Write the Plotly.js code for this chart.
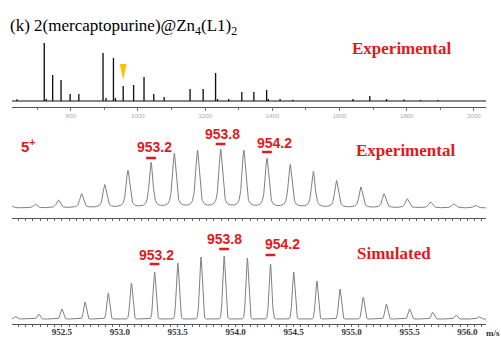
<!DOCTYPE html>
<html><head><meta charset="utf-8">
<script src="https://cdn.plot.ly/plotly-3.0.1.min.js"></script>
<style>html,body{margin:0;padding:0;background:#fff}#chart{width:501px;height:338px}</style>
</head><body><div id="chart"></div>
<script>
// ---- Overview spectrum (m/z, relative intensity %) ----
const overviewMz  = [640, 721, 727, 746, 771, 798, 824, 896, 905, 927, 933, 956, 987, 1018, 1047, 1078, 1155, 1194, 1231, 1237, 1270, 1309, 1345, 1383, 1388, 1423, 1461, 1640, 1690, 1740, 1792, 1841, 1893];
const overviewInt = [2.9, 100, 3.4, 44.8, 36.2, 12.1, 12.1, 82.8, 5.2, 74.1, 5.2, 25.9, 27.6, 41.4, 12.1, 6.9, 20.7, 20.7, 48.3, 3.4, 3.4, 15.5, 15.5, 19.0, 3.4, 3.4, 2.2, 3.4, 8.6, 3.4, 2.6, 1.7, 1.7];
const markedPeakMz = 956;
const topTickVals = [800, 1000, 1200, 1400, 1600, 1800, 2000];
const topTickText = ['800', '1000', '1200', '1400', '1600', '1800', '2000'];

// ---- Experimental isotope pattern (5+) ----
const expMz  = [952.07, 952.27, 952.47, 952.67, 952.87, 953.07, 953.27, 953.47, 953.67, 953.87, 954.07, 954.27, 954.47, 954.67, 954.87, 955.08, 955.28, 955.48, 955.68, 955.88, 956.07];
const expInt = [3.0, 6.4, 13.8, 24.1, 39.7, 63.8, 77.6, 93.1, 98.3, 100, 98.3, 84.5, 74.1, 62.1, 46.6, 35.7, 24.1, 15.5, 10.3, 6.9, 4.7];

// ---- Simulated isotope pattern ----
const simMz  = [952.1, 952.3, 952.5, 952.7, 952.9, 953.1, 953.3, 953.5, 953.7, 953.9, 954.1, 954.3, 954.5, 954.7, 954.9, 955.1, 955.3, 955.5, 955.7, 955.9, 956.1];
const simInt = [3.7, 7.9, 15.9, 27.0, 41.3, 57.1, 74.6, 88.9, 98.4, 100, 96.8, 87.3, 74.6, 60.3, 47.6, 34.9, 23.8, 15.9, 10.6, 6.8, 3.7];

// ---- Peak labels ----
const labelTexts = ['953.2', '953.8', '954.2'];
const expLabelMz = [953.27, 953.87, 954.27];
const simLabelMz = [953.3, 953.9, 954.3];
const bottomTickVals = [952.5, 953.0, 953.5, 954.0, 954.5, 955.0, 955.5, 956.0];
const bottomTickText = ['952.5', '953.0', '953.5', '954.0', '954.5', '955.0', '955.5', '956.0'];

// ---- helpers ----
const W = 501, H = 338;
const px = p => p / W;
const py = p => 1 - p / H;
const zoomRange = [952.07, 956.16];

function profile(mz, inten, fwhm, eta) {
  const xs = [], ys = [];
  const g = fwhm / 2, s = fwhm / 2.3548;
  for (let x = zoomRange[0]; x <= zoomRange[1] + 1e-9; x += 0.002) {
    let y = 0;
    for (let i = 0; i < mz.length; i++) {
      const d = x - mz[i];
      const lor = g * g / (d * d + g * g);
      const gau = Math.exp(-d * d / (2 * s * s));
      y += inten[i] * (eta * lor + (1 - eta) * gau);
    }
    xs.push(x); ys.push(y);
  }
  return {x: xs, y: ys};
}

const expProf = profile(expMz, expInt, 0.037, 0.65);
const simProf = profile(simMz, simInt, 0.028, 0.0);

const red = '#E3191C';
const traces = [
  {type: 'bar', x: overviewMz, y: overviewInt, width: 4, marker: {color: '#111', line: {width: 0}}, xaxis: 'x', yaxis: 'y', hoverinfo: 'skip'},
  {type: 'scatter', mode: 'lines', x: expProf.x, y: expProf.y, line: {color: '#808080', width: 1}, xaxis: 'x2', yaxis: 'y2', hoverinfo: 'skip'},
  {type: 'scatter', mode: 'lines', x: simProf.x, y: simProf.y, line: {color: '#808080', width: 1}, xaxis: 'x3', yaxis: 'y3', hoverinfo: 'skip'}
];

const xdom = [px(12), px(486)];
const common = {showgrid: false, zeroline: false, showline: true, linecolor: '#555', linewidth: 1, fixedrange: true};

const layout = {
  width: W, height: H, margin: {l: 0, r: 0, t: 0, b: 0},
  paper_bgcolor: '#fff', plot_bgcolor: 'rgba(0,0,0,0)', showlegend: false,
  xaxis: Object.assign({}, common, {domain: xdom, range: [625, 2036], anchor: 'y',
    tickmode: 'array', tickvals: topTickVals, ticktext: topTickText, ticks: 'outside', ticklen: 3, tickcolor: '#777',
    tickfont: {size: 6, color: '#aaa', family: 'Liberation Sans'},
    minor: {dtick: 100, tick0: 700, ticks: 'outside', ticklen: 2, tickcolor: '#777'}}),
  yaxis: {domain: [py(107), py(40)], range: [-10.34, 105.17], visible: false, fixedrange: true},
  xaxis2: Object.assign({}, common, {domain: xdom, range: zoomRange, anchor: 'y2',
    showticklabels: false, dtick: 0.0625, tick0: 952.0, ticks: 'outside', ticklen: 2, tickcolor: '#666'}),
  yaxis2: {domain: [py(218), py(120)], range: [-17.24, 151.7], visible: false, fixedrange: true},
  xaxis3: Object.assign({}, common, {domain: xdom, range: zoomRange, anchor: 'y3',
    tickmode: 'array', tickvals: bottomTickVals, ticktext: bottomTickText, ticks: 'outside', ticklen: 2, tickcolor: '#666',
    ticklabelstandoff: -3,
    tickfont: {size: 9, color: '#333', family: 'Liberation Serif', weight: 'bold'},
    minor: {dtick: 0.0625, tick0: 952.0, ticks: 'outside', ticklen: 2, tickcolor: '#666'}}),
  yaxis3: {domain: [py(324), py(225)], range: [-7.94, 149.2], visible: false, fixedrange: true},
  shapes: [],
  annotations: []
};

// overview baseline
layout.shapes.push({type: 'line', xref: 'paper', yref: 'y', x0: xdom[0], x1: xdom[1], y0: 0, y1: 0, line: {color: '#111', width: 1}});
// marker triangle
layout.shapes.push({type: 'path', xref: 'x', yref: 'paper',
  path: `M ${markedPeakMz - 10},${py(64)} L ${markedPeakMz + 10},${py(64)} L ${markedPeakMz},${py(80)} Z`,
  fillcolor: '#FFC000', line: {width: 0}});

// title
layout.annotations.push({xref: 'paper', yref: 'paper', x: px(8), y: py(27), xanchor: 'left', yanchor: 'middle', showarrow: false,
  text: '(k) 2(mercaptopurine)@Zn<sub>4</sub>(L1)<sub>2</sub>', font: {family: 'Liberation Serif', size: 17, color: '#000'}});

const redSerif = {family: 'Liberation Serif', size: 17, color: red, weight: 'bold'};
layout.annotations.push({xref: 'paper', yref: 'paper', x: px(401), y: py(48), xanchor: 'center', yanchor: 'middle', showarrow: false, text: 'Experimental', font: redSerif});
layout.annotations.push({xref: 'paper', yref: 'paper', x: px(405), y: py(150), xanchor: 'center', yanchor: 'middle', showarrow: false, text: 'Experimental', font: redSerif});
layout.annotations.push({xref: 'paper', yref: 'paper', x: px(394), y: py(254), xanchor: 'center', yanchor: 'middle', showarrow: false, text: 'Simulated', font: redSerif});
layout.annotations.push({xref: 'paper', yref: 'paper', x: px(19), y: py(145), xanchor: 'left', yanchor: 'middle', showarrow: false,
  text: '5<sup>+</sup>', font: {family: 'Liberation Sans', size: 15, color: red, weight: 'bold'}});

const labFont = {family: 'Liberation Sans', size: 14, color: red, weight: 'bold'};
const expTextY = [147.5, 134, 142.5], expBarY = [158, 144, 152], expShift = [3, 2, 8];
const simTextY = [255, 239, 244], simBarY = [264, 249, 255], simShift = [1.5, 0.5, 12.5];
labelTexts.forEach((t, i) => {
  layout.annotations.push({xref: 'x2', yref: 'paper', x: expLabelMz[i], xshift: expShift[i], y: py(expTextY[i]), xanchor: 'center', yanchor: 'middle', showarrow: false, text: t, font: labFont});
  layout.shapes.push({type: 'line', xref: 'x2', yref: 'paper', x0: expLabelMz[i] - 0.042, x1: expLabelMz[i] + 0.042, y0: py(expBarY[i]), y1: py(expBarY[i]), line: {color: red, width: 2.5}});
  layout.annotations.push({xref: 'x3', yref: 'paper', x: simLabelMz[i], xshift: simShift[i], y: py(simTextY[i]), xanchor: 'center', yanchor: 'middle', showarrow: false, text: t, font: labFont});
  layout.shapes.push({type: 'line', xref: 'x3', yref: 'paper', x0: simLabelMz[i] - 0.042, x1: simLabelMz[i] + 0.042, y0: py(simBarY[i]), y1: py(simBarY[i]), line: {color: red, width: 2.5}});
});

// m/s unit label
layout.annotations.push({xref: 'paper', yref: 'paper', x: px(493), y: py(333), xanchor: 'center', yanchor: 'middle', showarrow: false, text: 'm/s',
  font: {family: 'Liberation Serif', size: 9, color: '#333', weight: 'bold'}});

Plotly.newPlot('chart', traces, layout, {displayModeBar: false, staticPlot: true});
</script>
</body></html>
